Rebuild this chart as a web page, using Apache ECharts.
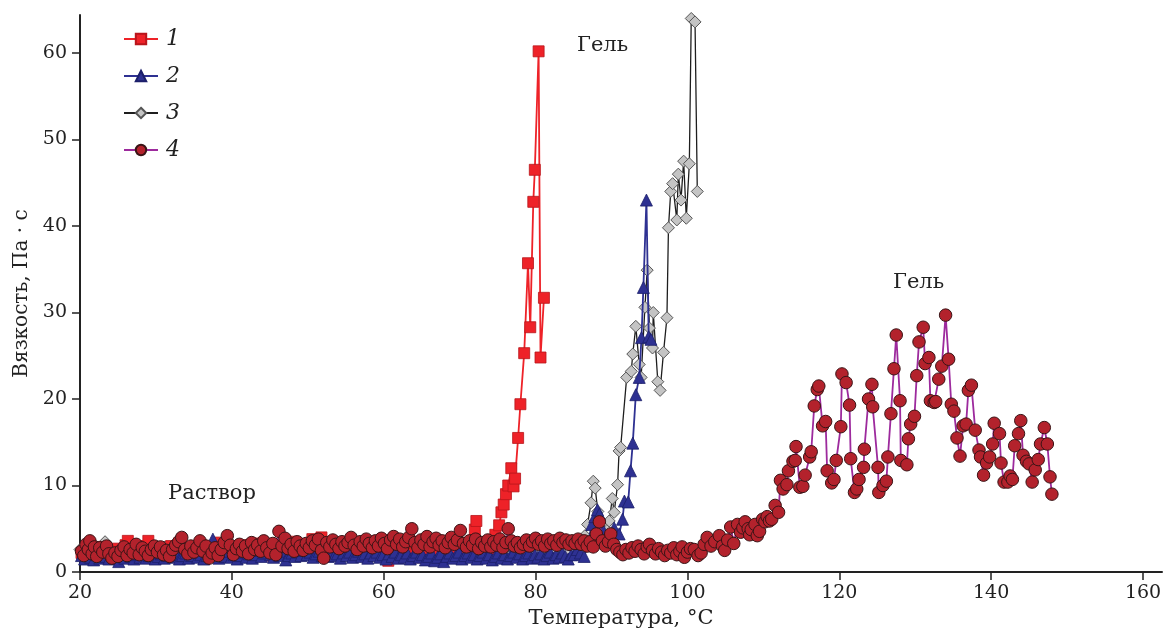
<!DOCTYPE html>
<html lang="ru">
<head>
    <meta charset="UTF-8">
    <title>Вязкость</title>
    <script type="text/javascript" src="https://cdn.jsdelivr.net/npm/echarts@6/dist/echarts.min.js"></script>
    <style>
        body { margin: 0; background: #fff; }
    </style>
</head>
<body>
<div id="main" style="width: 1164px; height: 628px;"></div>

<script>
    // [температура, вязкость]
    var seriesNames = ['1', '2', '3', '4'];
    var xTicks = [20, 40, 60, 80, 100, 120, 140, 160];
    var yTicks = [0, 10, 20, 30, 40, 50, 60];

    var data1 = [
        [20.2,2.2],[20.7,1.8],[21.2,2.6],[21.8,2.0],[22.4,2.9],[23.0,1.7],[23.6,2.4],[24.2,2.0],[24.8,2.7],[25.4,2.2],
        [26.0,3.1],[26.3,3.6],[26.9,2.5],[27.5,2.9],[28.1,2.2],[28.6,3.0],[29.0,3.6],[29.6,2.4],[30.2,2.8],[30.8,2.1],
        [31.4,2.6],[32.0,3.0],[32.6,2.3],[33.2,3.2],[33.8,2.5],[34.4,1.9],[35.0,2.8],[35.6,2.2],[36.2,3.0],[36.8,2.4],
        [37.4,2.8],[38.0,3.4],[38.6,2.1],[39.2,2.7],[39.8,3.0],[40.4,2.4],[41.0,2.9],[41.6,2.2],[42.2,3.1],[42.8,2.6],
        [43.4,3.3],[44.0,2.5],[44.6,1.9],[45.2,2.8],[45.8,2.3],[46.4,3.0],[47.0,2.6],[47.6,3.5],[48.2,2.7],[48.8,2.2],
        [49.4,3.1],[50.0,2.5],[50.6,3.8],[51.2,2.8],[51.8,4.0],[52.4,2.6],[53.0,3.0],[53.6,2.2],[54.2,3.3],[54.8,2.6],
        [55.4,2.0],[56.0,2.9],[56.6,2.4],[57.2,3.2],[57.8,1.9],[58.4,2.7],[59.0,2.2],[59.6,3.0],[60.2,1.8],[60.6,1.3],
        [61.2,2.4],[61.8,2.9],[62.4,1.9],[63.0,2.6],[63.6,2.1],[64.2,2.8],[64.8,1.7],[65.4,2.5],[66.0,2.0],[66.6,2.9],
        [67.2,2.2],[67.8,1.6],[68.4,2.6],[69.0,3.0],[69.6,2.1],[70.2,2.7],[70.8,3.3],[71.4,2.4],[72.0,4.9],[72.2,5.9],
        [72.8,2.6],[73.4,3.1],[74.0,2.4],[74.7,4.3],[75.2,5.4],[75.5,6.9],[75.8,7.8],[76.1,9.0],[76.4,10.0],[76.8,12.0],
        [77.1,9.9],[77.3,10.8],[77.7,15.5],[78.0,19.4],[78.5,25.3],[79.0,35.7],[79.3,28.3],[79.7,42.8],[79.9,46.5],[80.4,60.2],
        [80.65,24.8],[81.1,31.7]
    ];

    var data2 = [
        [20.2,1.9],[20.6,1.5],[21.0,2.2],[21.4,1.7],[21.8,1.4],[22.2,2.0],[22.6,1.6],[23.0,2.4],[23.4,1.8],[23.8,1.5],
        [24.2,2.1],[24.6,1.7],[25.1,1.2],[25.5,1.9],[25.9,1.6],[26.3,2.2],[26.7,1.8],[27.1,1.5],[27.5,2.0],[27.9,1.7],
        [28.3,2.3],[28.7,1.6],[29.1,1.9],[29.5,2.2],[29.9,1.5],[30.3,1.8],[30.7,2.1],[31.1,1.6],[31.5,1.9],[31.9,2.3],
        [32.3,1.7],[32.7,2.0],[33.1,1.5],[33.5,1.9],[33.9,2.2],[34.3,1.6],[34.7,1.9],[35.1,2.4],[35.5,1.7],[35.9,2.0],
        [36.3,1.5],[36.7,1.9],[37.1,2.3],[37.5,3.8],[37.9,2.0],[38.3,1.6],[38.7,2.1],[39.1,1.8],[39.5,2.4],[39.9,1.7],
        [40.3,2.0],[40.7,1.5],[41.1,1.9],[41.5,2.3],[41.9,1.7],[42.3,2.1],[42.7,1.6],[43.1,2.0],[43.5,2.5],[43.9,1.8],
        [44.3,2.2],[44.7,3.4],[45.1,2.0],[45.5,1.7],[45.9,2.2],[46.3,1.9],[46.7,2.4],[47.1,1.4],[47.5,1.9],[47.9,2.2],
        [48.3,1.8],[48.7,2.3],[49.1,1.9],[49.5,2.5],[49.9,2.0],[50.3,2.3],[50.7,1.7],[51.1,2.1],[51.5,2.4],[51.9,1.9],
        [52.3,2.2],[52.7,1.8],[53.1,2.3],[53.5,1.9],[53.9,2.1],[54.3,1.6],[54.7,2.2],[55.1,1.9],[55.5,2.3],[55.9,1.7],
        [56.3,2.0],[56.7,2.4],[57.1,1.8],[57.5,2.1],[57.9,1.6],[58.3,2.2],[58.7,1.9],[59.1,2.3],[59.5,1.7],[59.9,2.0],
        [60.3,1.5],[60.7,2.1],[61.1,1.8],[61.5,2.3],[61.9,1.6],[62.3,2.0],[62.7,1.7],[63.1,2.2],[63.5,1.5],[63.9,1.9],
        [64.3,2.3],[64.7,1.7],[65.1,2.0],[65.5,1.4],[65.9,1.8],[66.3,2.2],[66.7,1.3],[67.1,1.7],[67.5,2.1],[67.9,1.2],
        [68.3,1.8],[68.7,2.2],[69.1,1.6],[69.5,1.9],[69.9,2.3],[70.3,1.5],[70.7,1.9],[71.1,2.2],[71.5,1.7],[71.9,2.0],
        [72.3,1.5],[72.7,1.9],[73.1,2.3],[73.5,1.6],[73.9,2.0],[74.3,1.4],[74.7,1.8],[75.1,2.2],[75.5,1.6],[75.9,2.0],
        [76.3,1.5],[76.7,1.9],[77.1,2.3],[77.5,1.7],[77.9,2.1],[78.3,1.5],[78.7,1.9],[79.1,2.2],[79.5,1.6],[79.9,2.0],
        [80.3,1.7],[80.7,2.1],[81.1,1.5],[81.5,1.9],[81.9,2.3],[82.3,1.6],[82.7,2.0],[83.1,1.7],[83.5,2.2],[83.9,1.8],
        [84.3,1.5],[84.7,2.0],[85.1,2.0],[85.5,2.6],[85.9,2.2],[86.4,1.8],[86.9,3.4],[87.4,5.5],[87.8,6.4],[88.15,7.2],
        [88.4,6.7],[88.8,5.0],[89.2,3.6],[89.7,4.1],[90.35,5.1],[91.0,4.4],[91.45,6.1],[91.7,8.2],[92.2,8.1],[92.5,11.7],
        [92.8,14.9],[93.2,20.5],[93.65,22.5],[93.95,27.1],[94.2,32.9],[94.6,43.0],[94.9,27.2],[95.2,26.9]
    ];

    var data3 = [
        [20.0,2.6],[20.6,3.0],[21.3,2.5],[22.0,2.9],[22.7,2.4],[23.3,3.5],[24.0,2.7],[24.8,2.2],[25.6,2.8],[26.4,2.4],
        [27.2,2.9],[28.0,2.3],[28.8,2.7],[29.6,2.1],[30.4,2.6],[31.2,2.9],[32.0,2.3],[32.8,2.7],[33.6,2.2],[34.4,2.8],
        [35.2,2.4],[36.0,2.9],[36.8,1.8],[37.6,2.6],[38.4,2.2],[39.2,2.8],[40.0,2.4],[40.8,2.9],[41.6,2.3],[42.4,2.7],
        [43.2,2.2],[44.0,2.6],[44.8,2.9],[45.6,2.3],[46.4,2.7],[47.2,2.1],[48.0,2.6],[48.8,1.9],[49.6,2.5],[50.4,2.8],
        [51.2,2.2],[52.0,2.6],[52.8,2.3],[53.6,2.8],[54.4,2.1],[55.2,2.6],[56.0,2.3],[56.8,2.7],[57.6,2.0],[58.4,2.5],
        [59.2,2.8],[60.0,2.2],[60.8,2.6],[61.6,2.3],[62.4,2.9],[63.2,2.1],[64.0,2.5],[64.8,2.2],[65.6,2.7],[66.4,2.3],
        [67.2,2.6],[68.0,2.1],[68.8,2.5],[69.6,2.8],[70.4,2.2],[71.2,2.6],[72.0,2.3],[72.8,2.7],[73.6,2.1],[74.4,2.5],
        [75.2,2.2],[76.0,2.6],[76.8,2.0],[77.6,2.5],[78.4,2.2],[79.2,2.7],[79.8,2.6],[80.6,2.3],[81.4,2.7],[82.2,2.5],
        [83.0,3.0],[83.7,2.8],[84.4,2.4],[85.2,2.6],[86.0,2.4],[86.5,4.2],[86.85,5.5],[87.3,8.0],[87.6,10.5],[87.85,9.7],
        [88.2,7.0],[88.6,5.0],[89.0,4.0],[89.4,4.8],[89.7,5.9],[90.1,8.5],[90.35,6.9],[90.8,10.1],[91.0,14.0],[91.2,14.4],
        [92.0,22.5],[92.6,23.2],[92.8,25.2],[93.2,28.4],[93.65,24.0],[93.9,22.5],[94.4,30.6],[94.7,34.9],[95.0,28.2],[95.4,25.9],
        [95.5,30.0],[96.1,22.0],[96.4,21.0],[96.85,25.4],[97.3,29.4],[97.5,39.8],[97.8,44.0],[98.05,44.9],[98.6,40.7],[98.8,46.0],
        [99.15,43.0],[99.5,47.5],[99.85,40.9],[100.25,47.2],[100.5,64.0],[101.0,63.6],[101.3,44.0]
    ];

    var data4 = [
        [20.2,2.4],[20.5,1.9],[20.8,3.2],[21.1,2.6],[21.3,3.6],[21.6,2.1],[21.9,2.9],[22.2,1.8],[22.6,2.8],[23.0,2.3],
        [23.5,3.0],[23.8,2.1],[24.2,1.6],[24.6,2.2],[25.0,1.8],[25.4,2.5],[25.8,2.9],[26.2,1.9],[26.6,2.6],[27.0,2.2],
        [27.4,3.2],[27.8,2.0],[28.2,2.8],[28.6,2.4],[29.0,1.9],[29.4,2.6],[29.8,3.0],[30.2,2.3],[30.6,2.9],[31.0,2.0],
        [31.4,2.5],[31.8,1.8],[32.2,2.6],[32.6,3.1],[33.0,3.5],[33.4,4.0],[33.8,2.6],[34.2,2.1],[34.6,3.0],[35.0,2.3],
        [35.4,2.8],[35.8,3.6],[36.2,2.4],[36.6,3.0],[37.0,1.6],[37.4,2.2],[37.8,2.8],[38.2,1.9],[38.6,2.6],[39.0,3.4],
        [39.4,4.2],[39.8,3.1],[40.2,2.0],[40.6,2.7],[41.0,3.2],[41.4,2.4],[41.8,3.0],[42.2,2.1],[42.6,3.4],[43.0,2.6],
        [43.4,3.1],[43.8,2.4],[44.2,3.6],[44.6,2.8],[45.0,2.2],[45.4,3.3],[45.8,2.0],[46.2,4.7],[46.6,3.0],[47.0,3.9],
        [47.4,2.7],[47.8,3.2],[48.2,2.4],[48.6,3.5],[49.0,3.0],[49.4,2.5],[49.8,3.3],[50.2,2.8],[50.6,3.6],[51.0,3.1],
        [51.4,3.8],[51.8,2.5],[52.1,1.6],[52.5,3.4],[52.9,2.9],[53.3,3.7],[53.7,3.2],[54.1,2.7],[54.5,3.5],[54.9,3.0],
        [55.3,3.4],[55.7,4.0],[56.1,3.1],[56.5,2.6],[56.9,3.5],[57.3,3.0],[57.7,3.8],[58.1,3.3],[58.5,2.8],[58.9,3.6],
        [59.3,3.0],[59.7,3.9],[60.1,3.3],[60.5,2.7],[60.9,3.7],[61.3,4.1],[61.7,3.2],[62.1,3.8],[62.5,2.9],[62.9,3.5],
        [63.3,4.0],[63.7,5.0],[64.1,3.4],[64.5,2.8],[64.9,3.7],[65.3,3.2],[65.7,4.1],[66.1,2.9],[66.5,3.5],[66.9,3.9],
        [67.3,3.1],[67.7,3.6],[68.1,2.8],[68.5,3.4],[68.9,4.0],[69.3,3.2],[69.7,3.7],[70.1,4.8],[70.5,3.3],[70.9,2.9],
        [71.3,3.6],[71.7,3.1],[72.1,3.8],[72.5,2.7],[72.9,3.4],[73.3,3.0],[73.7,3.7],[74.1,2.9],[74.5,3.5],[74.9,3.1],
        [75.3,3.8],[75.7,2.8],[76.1,3.4],[76.4,5.0],[76.8,3.6],[77.2,3.0],[77.6,3.4],[78.0,2.8],[78.4,3.2],[78.8,3.7],
        [79.2,3.0],[79.6,3.5],[80.0,3.9],[80.4,3.2],[80.8,3.6],[81.2,3.0],[81.6,3.8],[82.0,3.3],[82.4,3.6],[82.8,3.1],
        [83.2,3.9],[83.6,3.4],[84.0,3.7],[84.4,3.2],[84.8,3.6],[85.2,3.3],[85.6,3.8],[86.0,3.2],[86.4,3.6],[86.8,3.0],
        [87.2,3.5],[87.6,2.9],[88.0,4.4],[88.4,5.8],[88.8,3.6],[89.2,3.0],[89.6,3.5],[89.9,4.4],[90.3,3.2],[90.7,2.6],
        [91.1,2.3],[91.5,2.0],[91.9,2.6],[92.3,2.2],[92.7,2.8],[93.1,2.4],[93.5,3.0],[93.9,2.6],[94.3,2.1],[94.7,2.9],
        [95.0,3.2],[95.4,2.5],[95.8,2.1],[96.2,2.7],[96.6,2.3],[97.0,1.9],[97.4,2.5],[97.8,2.2],[98.2,2.8],[98.6,2.0],
        [99.0,2.4],[99.3,2.9],[99.6,1.7],[100.0,2.3],[100.4,2.7],[100.9,2.6],[101.4,1.9],[101.8,2.2],[102.2,3.2],[102.6,4.0],
        [103.1,3.0],[103.6,3.5],[104.2,4.2],[104.6,3.0],[104.9,2.5],[105.3,3.7],[105.7,5.2],[106.1,3.3],[106.6,5.5],[107.0,4.6],
        [107.3,5.1],[107.6,5.8],[108.0,5.0],[108.2,4.3],[108.4,4.9],[108.9,5.5],[109.2,4.2],[109.5,4.7],[109.9,6.1],[110.2,5.8],
        [110.5,6.4],[110.8,5.9],[111.1,6.1],[111.55,7.7],[112.0,6.9],[112.25,10.6],[112.6,9.6],[113.1,10.1],[113.3,11.7],[113.9,12.8],
        [114.2,12.9],[114.3,14.5],[114.8,9.8],[115.2,9.9],[115.5,11.2],[116.1,13.3],[116.3,13.9],[116.7,19.2],[117.1,21.1],[117.3,21.5],
        [117.8,16.9],[118.2,17.4],[118.4,11.7],[119.0,10.3],[119.3,10.7],[119.6,12.9],[120.2,16.8],[120.35,22.9],[120.9,21.9],[121.35,19.3],
        [121.5,13.1],[122.0,9.2],[122.3,9.6],[122.6,10.7],[123.2,12.1],[123.3,14.2],[123.85,20.0],[124.3,21.7],[124.4,19.1],[125.1,12.1],
        [125.2,9.2],[125.75,10.0],[126.2,10.5],[126.4,13.3],[126.8,18.3],[127.2,23.5],[127.5,27.4],[128.0,19.8],[128.1,12.9],[128.9,12.4],
        [129.1,15.4],[129.4,17.1],[129.9,18.0],[130.2,22.7],[130.5,26.6],[131.05,28.3],[131.3,24.1],[131.8,24.8],[132.0,19.8],[132.5,19.6],
        [132.7,19.7],[133.1,22.3],[133.5,23.8],[134.0,29.7],[134.4,24.6],[134.75,19.4],[135.1,18.6],[135.5,15.5],[135.9,13.4],[136.3,16.9],
        [136.7,17.1],[137.0,21.0],[137.4,21.6],[137.9,16.4],[138.4,14.1],[138.6,13.3],[139.0,11.2],[139.4,12.6],[139.8,13.3],[140.2,14.8],
        [140.4,17.2],[141.1,16.0],[141.3,12.6],[141.7,10.4],[142.2,10.4],[142.5,11.1],[142.8,10.7],[143.1,14.6],[143.6,16.0],[143.9,17.5],
        [144.2,13.5],[144.65,12.8],[145.0,12.5],[145.4,10.4],[145.8,11.8],[146.2,13.0],[146.5,14.8],[147.0,16.7],[147.4,14.8],[147.75,11.0],
        [148.0,9.0]
    ];

    var serifFont = '"DejaVu Serif", "Liberation Serif", serif';

    var myChart = echarts.init(document.getElementById('main'));

    var option = {
        animation: false,
        backgroundColor: '#fff',
        grid: {
            left: 80,
            right: 2,
            top: 15,
            bottom: 56,
            outerBoundsMode: 'none'
        },
        legend: {
            orient: 'vertical',
            left: 123,
            top: 28,
            padding: 0,
            itemWidth: 34,
            itemHeight: 13,
            itemGap: 15,
            data: seriesNames,
            textStyle: {
                fontFamily: serifFont,
                fontStyle: 'italic',
                fontSize: 22,
                color: '#222',
                padding: [0, 0, 0, 3]
            }
        },
        xAxis: {
            type: 'value',
            min: 20,
            max: 162.5,
            name: 'Температура, °C',
            nameLocation: 'middle',
            nameGap: 36,
            nameTextStyle: {
                fontFamily: serifFont,
                fontSize: 21,
                color: '#222'
            },
            axisLine: {onZero: false, lineStyle: {color: '#222', width: 2}},
            axisTick: {show: true, length: 8, customValues: xTicks, lineStyle: {color: '#222', width: 1.5}},
            axisLabel: {
                customValues: xTicks,
                margin: 12,
                fontFamily: serifFont,
                fontSize: 19,
                color: '#222'
            },
            splitLine: {show: false}
        },
        yAxis: {
            type: 'value',
            min: 0,
            max: 64.4,
            name: 'Вязкость, Па · с',
            nameLocation: 'middle',
            nameGap: 47,
            nameTextStyle: {
                fontFamily: serifFont,
                fontSize: 20,
                color: '#222'
            },
            axisLine: {show: true, onZero: false, lineStyle: {color: '#222', width: 2}},
            axisTick: {show: true, length: 8, customValues: yTicks, lineStyle: {color: '#222', width: 1.5}},
            axisLabel: {
                customValues: yTicks,
                margin: 13,
                fontFamily: serifFont,
                fontSize: 19,
                color: '#222'
            },
            splitLine: {show: false}
        },
        graphic: [
            {type: 'text', left: 168, top: 483, style: {text: 'Раствор', font: '21px ' + serifFont, fill: '#222'}},
            {type: 'text', left: 577, top: 35, style: {text: 'Гель', font: '21px ' + serifFont, fill: '#222'}},
            {type: 'text', left: 893, top: 272, style: {text: 'Гель', font: '21px ' + serifFont, fill: '#222'}}
        ],
        series: [
            {
                name: '1',
                type: 'line',
                z: 3,
                data: data1,
                symbol: 'rect',
                symbolSize: 11,
                lineStyle: {color: '#ee2228', width: 1.8},
                itemStyle: {color: '#ee2228', borderColor: '#b8151b', borderWidth: 0.8}
            },
            {
                name: '2',
                type: 'line',
                z: 4,
                data: data2,
                symbol: 'triangle',
                symbolSize: 12,
                lineStyle: {color: '#2e3192', width: 1.8},
                itemStyle: {color: '#2e3192', borderColor: '#1c1f6a', borderWidth: 0.8}
            },
            {
                name: '3',
                type: 'line',
                z: 2,
                data: data3,
                symbol: 'diamond',
                symbolSize: 12,
                lineStyle: {color: '#1e1e1e', width: 1.3},
                itemStyle: {color: '#c4c4c4', borderColor: '#555', borderWidth: 1}
            },
            {
                name: '4',
                type: 'line',
                z: 5,
                data: data4,
                symbol: 'circle',
                symbolSize: 12.5,
                lineStyle: {color: '#9d2a9d', width: 1.8},
                itemStyle: {color: '#b3222c', borderColor: '#3a1416', borderWidth: 1}
            }
        ]
    };

    myChart.setOption(option);
</script>
</body>
</html>
